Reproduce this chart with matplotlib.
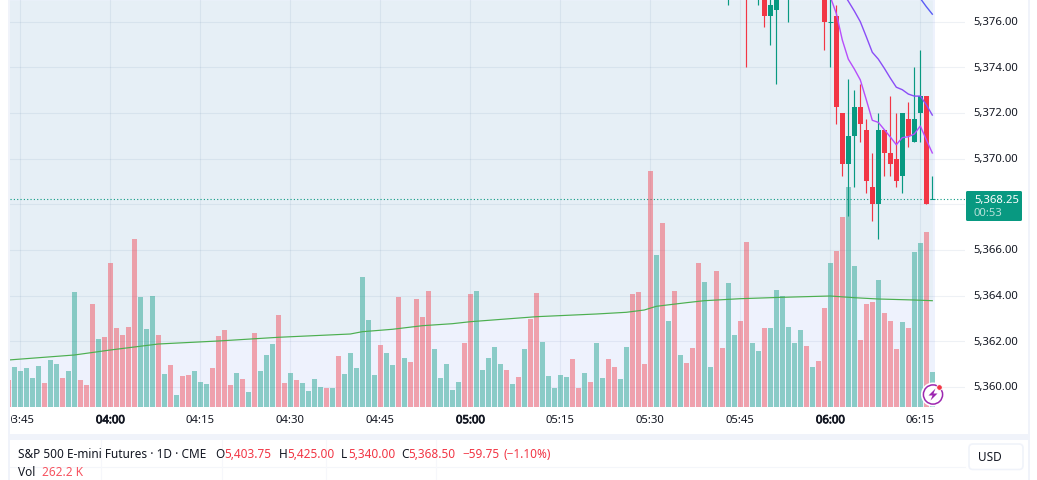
import matplotlib
matplotlib.use('Agg')
import matplotlib.pyplot as plt
import matplotlib.patheffects as pe
from matplotlib.patches import Rectangle, Circle, Polygon, FancyBboxPatch
from matplotlib.transforms import Affine2D, Bbox, ScaledTranslation

plt.rcParams['font.family'] = ['Noto Sans', 'DejaVu Sans']

# ---------- data ----------
vol_first = -1
volumes = [27,
    40,36,39,29,41,24,47,43,29,36,115,27,22,103,68,70,144,79,72,80,168,110,78,111,72,
    33,42,12,31,32,36,25,23,39,71,77,22,34,28,15,74,36,52,63,92,24,34,27,24,16,28,20,19,19,51,33,54,
    39,130,87,32,62,54,42,110,49,45,108,90,116,58,29,43,17,25,64,113,116,37,49,60,43,37,23,30,58,88,
    114,65,31,19,32,30,48,19,34,25,64,29,48,40,28,60,113,115,43,236,152,184,86,116,52,44,
    59,144,125,40,136,59,124,72,86,165,64,56,79,79,117,111,80,64,77,61,40,46,99,144,156,190,220,141,
    67,103,105,127,94,86,58,85,79,155,164,175,35]
colors_a = ['t','t','t','t','t','r','t','t','r','t','t','r','r','r','t','r','r','r','r','r','r','t','t','t','r',
            't','r','t','r','r','t','t','t','r','r','r','r','t','r','t','r','t','t','t','r','r','t','r','t','t',
            't','t','r','t','r','t','t']
colors_b = ['t','t','t','t','r','t','t','r','t','r','r','r','r','t','t','t','t','t','r','r','t','t','t','t','t',
            'r','t','r','t','r','r','t','t','t','t','t','r','r','t','r','t','t','r','r','t','t','r','r','r','r',
            't','r','t','r','t','r']
colors_c = ['r','r','t','t','r','r','t','t','r','r','t','t','r','t','t','t','t','t','t','r','t','r','r','t','r',
            'r','t','t','r','r','r','t','r','r','r','t','r','t','t','r','t']
vol_colors = ['r'] + colors_a + colors_b + colors_c

ma_idx = [-1,10,16,24,34,44,56,58,63,68,73,76,87,97,102,105,107,112,115,121,128,136,140,144,150,153]
ma_vals = [47,52,57,63,66,69.7,73,75.3,77.7,81.3,83.3,85.3,90.3,93,94.7,97,100.7,104.3,106.3,108.3,109.7,111,109.3,108,107,106.3]

cndl_idx = [119,122,124,125,126,127,129,135,136,137,138,139,140,141,142,143,144,145,146,147,148,149,150,151,152,153]
cndl_o = [5377.5,5378.0,5377.5,5377.5,5376.25,5376.5,5377.5,5377.5,5376.0,5376.25,5372.0,5369.75,5371.0,5372.25,5371.25,5368.75,5368.0,5371.25,5370.25,5370.0,5369.25,5371.75,5370.75,5372.0,5372.75,5368.25]
cndl_h = [5378.5,5378.5,5378.5,5378.0,5377.5,5377.5,5378.5,5378.0,5377.5,5376.75,5372.0,5373.5,5373.0,5373.25,5371.75,5370.25,5372.0,5371.25,5372.75,5372.0,5372.0,5372.5,5374.0,5374.75,5372.75,5369.25]
cndl_l = [5376.75,5374.0,5376.75,5375.75,5375.0,5373.25,5376.0,5374.75,5374.0,5371.5,5369.25,5367.5,5368.75,5370.75,5368.5,5367.25,5366.5,5369.25,5369.25,5368.75,5368.5,5370.5,5370.75,5370.75,5368.0,5368.25]
cndl_c = [5378.0,5377.5,5378.0,5376.25,5376.75,5377.0,5378.0,5376.0,5376.0,5372.25,5369.75,5371.0,5372.25,5371.5,5369.0,5368.0,5371.25,5370.25,5369.75,5369.0,5372.0,5371.0,5371.75,5372.75,5368.0,5368.25]
doji_up = [136, 153]

line1_idx = list(range(136,154))
line1_vals = [5377.09,5376.36,5375.20,5374.36,5373.93,5373.45,5372.58,5371.68,5371.59,5371.27,5370.95,5370.61,5370.92,5370.96,5371.08,5371.43,5370.83,5370.25]
line2_idx = list(range(138,154))
line2_vals = [5377.31,5376.90,5376.47,5376.00,5375.34,5374.66,5374.36,5373.96,5373.53,5373.13,5373.02,5372.83,5372.74,5372.74,5372.36,5371.91]
line3_idx = [150,151,152,153]
line3_vals = [5377.4,5377.02,5376.66,5376.33]

last_price = 5368.25
xtick_idx = [1,16,31,46,61,76,91,106,121,136,151]
xtick_labels = ['03:45','04:00','04:15','04:30','04:45','05:00','05:15','05:30','05:45','06:00','06:15']
xtick_bold = ['04:00','05:00','06:00']
ytick_vals = [5360,5362,5364,5366,5368,5370,5372,5374,5376]
ytick_labels = ['5,360.00','5,362.00','5,364.00','5,366.00','','5,370.00','5,372.00','5,374.00','5,376.00']

# ---------- colours ----------
UP = '#089981'
DOWN = '#f23645'
INK = '#131722'
BAND = '#f0f3fa'
AXIS_FS = 8.15

W, H = 1037, 480
fig = plt.figure(figsize=(W/100, H/100), dpi=100, facecolor='white')
px = Affine2D().scale(1, -1).translate(0, H)   # pixel coords, origin top-left

# panels
fig.add_artist(Rectangle((8, 0), 1022, H, transform=px, fc=BAND, ec='none', zorder=-5))
fig.add_artist(Rectangle((10, -2), 1017.5, 436, transform=px, fc='white', ec='none', zorder=-4))
fig.add_artist(Rectangle((10, 439.5), 1017.5, 42, transform=px, fc='white', ec='none', zorder=-4))
# faint footer rules
fig.add_artist(plt.Line2D([10, 965], [466.5, 466.5], transform=px, color='#f4f6fa', lw=0.8, zorder=-3))
for xv in (101, 222, 326, 436):
    fig.add_artist(plt.Line2D([xv, xv], [440, 480], transform=px, color='#f6f7fb', lw=0.8, zorder=-3))

rect = [10/W, (H-407)/H, 955/W, 407/H]
xlim = (-0.717, 158.45)
ylim_price = (5359.12, 5376.95)
ylim_vol = (0, 407)

ax_bg = fig.add_axes(rect, zorder=0)
ax = fig.add_axes(rect, zorder=1, facecolor='none')
ax_vol = fig.add_axes(rect, zorder=2, facecolor='none')
for a in (ax_bg, ax, ax_vol):
    a.set_xlim(*xlim)
    for s in a.spines.values():
        s.set_visible(False)
ax_bg.set_ylim(*ylim_vol); ax_vol.set_ylim(*ylim_vol); ax.set_ylim(*ylim_price)
ax_bg.axis('off'); ax_vol.axis('off')

# backgrounds
ax_bg.axvspan(xlim[0], 153.4, color='#eef2fd', lw=0)
ax_bg.fill_between(ma_idx, ma_vals, 407, color='#e6eff6', lw=0)

# axes, grid
ax.set_xticks(xtick_idx)
ax.set_xticklabels(xtick_labels)
ax.yaxis.tick_right()
ax.set_yticks(ytick_vals)
ax.set_yticklabels(ytick_labels)
ax.tick_params(axis='both', length=0, labelsize=AXIS_FS, labelcolor=INK)
ax.tick_params(axis='x', pad=5.9)
ax.tick_params(axis='y', pad=6.2)
ax.grid(True, color='#4a6a9a', alpha=0.09, lw=0.8)
ax.set_axisbelow(True)
clip = Bbox([[10.5, 0], [W, H]])
for lab in ax.get_xticklabels():
    lab.set_clip_box(clip)
    lab.set_clip_on(True)
    if lab.get_text() in xtick_bold:
        lab.set_path_effects([pe.withStroke(linewidth=0.55, foreground=INK)])
up_shift = ScaledTranslation(0, 0.5/100, fig.dpi_scale_trans)
for lab in ax.get_yticklabels():
    lab.set_transform(lab.get_transform() + up_shift)

# last price
ax.axhline(last_price, color=UP, lw=0.8, ls=(0, (1, 2)), zorder=1.5)

# candles
for i, o, h, l, c in zip(cndl_idx, cndl_o, cndl_h, cndl_l, cndl_c):
    col = UP if c > o or i in doji_up else DOWN
    ax.vlines(i, l, h, color=col, lw=0.85, zorder=2)
    if c == o:
        ax.hlines(c, i-0.42, i+0.42, color=col, lw=0.75, zorder=2)
    else:
        ax.bar(i, abs(c-o), bottom=min(o, c), width=0.83, color=col, lw=0, zorder=2.2)

# moving averages on price
ax.plot(line1_idx, line1_vals, color='#b74dfb', lw=1.0, zorder=3)
ax.plot(line2_idx, line2_vals, color='#8a4df7', lw=1.0, zorder=3)
ax.plot(line3_idx, line3_vals, color='#5a5cf5', lw=1.0, zorder=3)

# volume
xs = [vol_first + k for k in range(len(volumes))]
ax_vol.bar(xs, volumes, width=0.83, lw=0,
           color=[UP if c == 't' else DOWN for c in vol_colors], alpha=0.43)
ax_vol.plot(ma_idx, ma_vals, color='#4caf50', lw=0.85)

# price tag
fig.add_artist(FancyBboxPatch((966, 191), 56, 30, boxstyle='round,pad=0,rounding_size=1.5',
                              transform=px, fc=UP, ec='none', zorder=5))
fig.text(974, 200, '5,368.25', transform=px, color='white', fontsize=AXIS_FS, va='center', zorder=6)
fig.text(974, 213, '00:53', transform=px, color='#b5e0d8', fontsize=AXIS_FS, va='center', zorder=6)

# lightning badge
fig.add_artist(Circle((933, 394.5), 10.3, transform=px, fc='white', ec='white', lw=2.5, zorder=5))
fig.add_artist(Circle((933, 394.5), 9.6, transform=px, fc='white', ec='#9c27b0', lw=1.1, zorder=6))
fig.add_artist(Polygon([(935.5, 388.5), (928.5, 395.5), (932.5, 395.5), (930.5, 400.5),
                        (937.5, 393.5), (933.5, 393.5)], closed=True, transform=px,
                       fc='#9c27b0', ec='none', zorder=7))
fig.add_artist(Circle((939.5, 387.5), 2.8, transform=px, fc=DOWN, ec='white', lw=0.6, zorder=8))

# footer
FS = 8.5
def t(x, y, s, c=INK, **kw):
    fig.text(x, y, s, transform=px, color=c, fontsize=kw.pop('fs', FS), va='center', **kw)
Y1, Y2 = 455, 472
t(18, Y1, 'S&P 500 E-mini Futures · 1D · CME')
t(215, Y1, 'O'); t(224, Y1, '5,403.75', DOWN)
t(279, Y1, 'H'); t(287, Y1, '5,425.00', DOWN)
t(341, Y1, 'L'); t(348, Y1, '5,340.00', DOWN)
t(401, Y1, 'C'); t(408, Y1, '5,368.50', DOWN)
t(462, Y1, '−59.75', DOWN); t(503, Y1, '(−1.10%)', DOWN)
t(18, Y2, 'Vol'); t(42, Y2, '262.2 K', '#f7525f')

fig.add_artist(FancyBboxPatch((969, 444), 54, 25.5, boxstyle='round,pad=0,rounding_size=4',
                              transform=px, fc='white', ec='#f0f3fa', lw=1.2, zorder=5))
t(990, 457.5, 'USD', ha='center', zorder=6, fs=8.5)

fig.savefig('out.png', dpi=100, facecolor='white')
